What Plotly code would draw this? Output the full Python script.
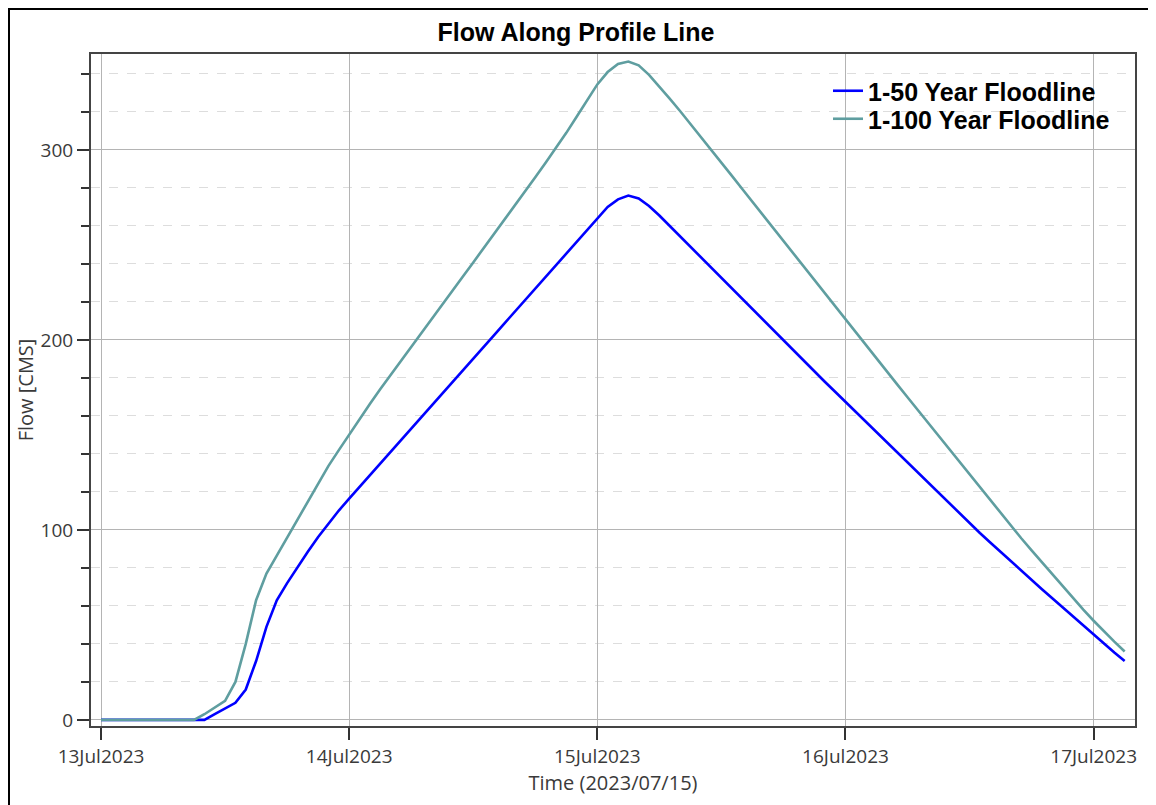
import pandas as pd
import plotly.graph_objects as go

# Hours after 13Jul2023 00:00
hours = list(range(100))

flow_50yr = [0, 0, 0, 0, 0, 0, 0, 0, 0, 0,
             0, 3, 6, 9, 16, 31, 49, 63, 72, 80.5,
             88.5, 96.3, 103.5, 110.2, 116.5, 122.6, 128.8, 134.9, 141, 147.2,
             153.3, 159.4, 165.6, 171.7, 177.9, 184, 190.1, 196.3, 202.4, 208.6,
             214.7, 220.8, 227, 233.1, 239.3, 245.4, 251.5, 257.7, 263.8, 270,
             274, 276, 274.5, 270.5, 265.5, 260, 254.5, 249, 243.5, 238,
             232.5, 227, 221.5, 216, 210.5, 205, 199.5, 194, 188.5, 183,
             178, 172.7, 167.4, 162, 156.7, 151.3, 146, 140.6, 135.3, 130,
             124.6, 119.3, 114, 108.7, 103.5, 98.4, 93.4, 88.4, 83.5, 78.6,
             73.7, 68.8, 64, 59.2, 54.4, 49.6, 44.8, 40.1, 35.5, 31]

flow_100yr = [0, 0, 0, 0, 0, 0, 0, 0, 0, 0,
              3, 6.5, 10, 20, 40, 63, 77, 86.5, 96, 105.5,
              115.3, 124.8, 133.7, 142, 150.3, 158.4, 166.3, 174, 181.5, 189,
              196.4, 203.8, 211.2, 218.6, 226, 233.4, 240.8, 248.2, 255.6, 263,
              270.5, 278, 285.6, 293.3, 301, 309, 317.5, 326, 334.5, 341,
              345.3, 346.5, 344.5, 339.5, 333.5, 327, 320.5, 313.8, 307, 300.2,
              293.4, 286.5, 279.6, 272.7, 265.8, 259, 252.1, 245.2, 238.3, 231.4,
              224.5, 217.5, 210.5, 203.7, 196.9, 190.2, 183.4, 176.6, 169.8, 163,
              156.3, 149.5, 142.7, 135.9, 129.2, 122.4, 115.6, 108.8, 102, 95.6,
              89.2, 82.9, 76.6, 70.4, 64.2, 58.1, 52.2, 46.6, 41.2, 36]

series_names = ["1-50 Year Floodline", "1-100 Year Floodline"]
series_colors = ["#0000FF", "#5F9EA0"]
day_ticks = ["2023-07-13", "2023-07-14", "2023-07-15", "2023-07-16", "2023-07-17"]
flow_ticks = [0, 100, 200, 300]

start = pd.Timestamp("2023-07-13 00:00")
times = [start + pd.Timedelta(hours=h) for h in hours]

# page has an 8px body margin, so the figure is 8px smaller and shifted
W, H = 1148, 797
L, T, R, B = 83, 46, 21, 79
PW, PH = W - L - R, H - T - B

fig = go.Figure()
legend_ids = ["legend", "legend2"]
for name, vals, col, lg in zip(series_names, [flow_50yr, flow_100yr], series_colors, legend_ids):
    fig.add_trace(go.Scatter(x=times, y=vals, mode="lines", name="<b>" + name + "</b>",
                             line=dict(color=col, width=2.6), legend=lg))

tick_font = dict(family="Open Sans", size=19, color="#3a3a3a")
title_font = dict(family="Open Sans", size=20, color="#3a3a3a")
legend_font = dict(family="Liberation Sans", size=25, color="black")


def legend_box(top_px):
    return dict(x=(820 - L) / PW, y=(H - B - top_px) / PH, xanchor="left", yanchor="top",
                bgcolor="rgba(0,0,0,0)", borderwidth=0, font=legend_font)


fig.update_layout(
    width=W, height=H,
    margin=dict(l=L, r=R, t=T, b=B),
    paper_bgcolor="white", plot_bgcolor="white",
    title=dict(text="<b>Flow Along Profile Line</b>", x=(576 - 8) / W, xanchor="center",
               y=1 - 24 / H, yanchor="middle",
               font=dict(family="Liberation Sans", size=25, color="black")),
    showlegend=True,
    legend=legend_box(60),
    legend2=legend_box(88),
    xaxis=dict(
        type="date",
        range=["2023-07-12 23:02", "2023-07-17 04:00"],
        tickvals=day_ticks,
        tickformat="%d%b%Y",
        ticks="outside", ticklen=12, tickwidth=2, tickcolor="#333333",
        tickfont=tick_font,
        showgrid=True, gridcolor="#b4b4b4", gridwidth=1,
        showline=True, linecolor="#444444", linewidth=2, mirror=True,
        zeroline=False,
        title=dict(text="Time (2023/07/15)", font=title_font, standoff=7),
    ),
    yaxis=dict(
        range=[-3.2, 350.5],
        tickvals=flow_ticks,
        ticks="outside", ticklen=12, tickwidth=2, tickcolor="#333333",
        tickfont=tick_font,
        showgrid=True, gridcolor="#b4b4b4", gridwidth=1,
        showline=True, linecolor="#444444", linewidth=2, mirror=True,
        zeroline=False,
        minor=dict(dtick=20, tick0=0, ticks="outside", ticklen=8, tickwidth=2,
                   tickcolor="#333333", showgrid=True, gridcolor="#dddddd",
                   griddash="dash", gridwidth=1),
        title=dict(text="Flow [CMS]", font=title_font, standoff=2),
    ),
    shapes=[dict(type="rect", xref="paper", yref="paper",
                 x0=(1 - L) / PW, x1=(W + 20 - L) / PW,
                 y0=(H - B - (H + 20)) / PH, y1=(H - B - 1) / PH,
                 line=dict(color="black", width=2), fillcolor="rgba(0,0,0,0)",
                 layer="below")],
)

fig.write_html("out.html")
